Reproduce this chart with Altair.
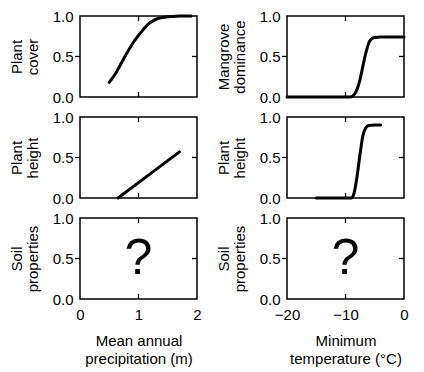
import altair as alt
import pandas as pd

# ---- data ----
cover_precip_x = [0.5, 0.6, 0.7, 0.8, 0.9, 1.0, 1.1, 1.2, 1.3, 1.4, 1.5, 1.6, 1.7, 1.8, 1.9]
cover_precip_y = [0.18, 0.28, 0.41, 0.54, 0.66, 0.76, 0.85, 0.92, 0.96, 0.98, 0.99, 0.995, 1.0, 1.0, 1.0]

height_precip_x = [0.65, 1.0, 1.70]
height_precip_y = [0.0, 0.19, 0.57]

mangrove_temp_x = [-20, -15, -10, -9.2, -8.5, -8, -7.5, -7, -6.5, -6, -5.5, -5, -4, -2, 0]
mangrove_temp_y = [0, 0, 0, 0.0, 0.03, 0.1, 0.22, 0.39, 0.55, 0.67, 0.72, 0.735, 0.74, 0.74, 0.74]

height_temp_x = [-15, -12, -10, -9, -8.5, -8, -7.5, -7, -6.5, -6, -5, -4]
height_temp_y = [0, 0, 0, 0.0, 0.07, 0.28, 0.55, 0.78, 0.87, 0.895, 0.9, 0.9]

question_precip_x = [1.0]
question_temp_x = [-10.0]
question_y = [0.5]
question_text = ["?"]

precip_ticks = [0.0, 1.0, 2.0]
temp_ticks = [-20.0, -10.0, 0.0]
y_ticks = [0.0, 0.5, 1.0]
mid_y_tick = [0.5]

left_titles = [["Plant", "cover"], ["Plant", "height"], ["Soil", "properties"]]
right_titles = [["Mangrove", "dominance"], ["Plant", "height"], ["Soil", "properties"]]
precip_title = ["Mean annual", "precipitation (m)"]
temp_title = ["Minimum", "temperature (°C)"]

FONT = "Liberation Sans"
W, H = 117, 81
TL = 5  # inner tick length


def panel(df, xticks, ytitle, xtitle=None, qmark=False, smooth=True):
    if xtitle is not None:
        xaxis = alt.Axis(values=xticks, format=".0f", title=xtitle,
                         labelOverlap=False, labelFlush=False, labelBound=False)
    else:
        xaxis = None
    xenc = alt.X("x:Q", scale=alt.Scale(domain=[xticks[0], xticks[-1]], nice=False, zero=False), axis=xaxis)
    yenc = alt.Y("y:Q", scale=alt.Scale(domain=[0, 1], nice=False),
                 axis=alt.Axis(values=y_ticks, format=".1f", title=ytitle,
                               labelOverlap=False, labelFlush=False))
    if qmark:
        main = alt.Chart(df).mark_text(font=FONT, fontSize=50, color="black",
                                       baseline="middle", align="center").encode(
            x=xenc, y=yenc, text="t:N")
    else:
        main = alt.Chart(df).mark_line(color="black", strokeWidth=3, strokeCap="round",
                                       interpolate="monotone" if smooth else "linear").encode(x=xenc, y=yenc)
    txdf = pd.DataFrame({"x": [xticks[1]]})
    tydf = pd.DataFrame({"y": mid_y_tick})
    rule = dict(color="black", strokeWidth=1.3)
    top = alt.Chart(txdf).mark_rule(**rule).encode(
        x=xenc, y=alt.value(0), y2=alt.value(TL))
    bottom = alt.Chart(txdf).mark_rule(**rule).encode(
        x=xenc, y=alt.value(H - TL), y2=alt.value(H))
    right = alt.Chart(tydf).mark_rule(**rule).encode(
        y=yenc, x=alt.value(W - TL), x2=alt.value(W))
    left = alt.Chart(tydf).mark_rule(**rule).encode(
        y=yenc, x=alt.value(-TL), x2=alt.value(0))
    return alt.layer(main, top, bottom, right, left).properties(width=W, height=H)


d1 = pd.DataFrame({"x": cover_precip_x, "y": cover_precip_y})
d2 = pd.DataFrame({"x": height_precip_x, "y": height_precip_y})
d3 = pd.DataFrame({"x": question_precip_x, "y": question_y, "t": question_text})
d4 = pd.DataFrame({"x": mangrove_temp_x, "y": mangrove_temp_y})
d5 = pd.DataFrame({"x": height_temp_x, "y": height_temp_y})
d6 = pd.DataFrame({"x": question_temp_x, "y": question_y, "t": question_text})

panels = [
    panel(d1, precip_ticks, left_titles[0]),
    panel(d4, temp_ticks, right_titles[0]),
    panel(d2, precip_ticks, left_titles[1], smooth=False),
    panel(d5, temp_ticks, right_titles[1]),
    panel(d3, precip_ticks, left_titles[2], precip_title, qmark=True),
    panel(d6, temp_ticks, right_titles[2], temp_title, qmark=True),
]

chart = alt.concat(*panels, columns=2, spacing=alt.RowColnumber(row=20, column=90)).properties(
    bounds="flush",
    padding={"left": 0, "top": 0, "right": 5, "bottom": 0},
    background="white",
).configure_view(
    stroke="black", strokeWidth=1.5
).configure_axis(
    labelFont=FONT, titleFont=FONT, labelFontSize=15, titleFontSize=15,
    titleFontWeight="normal", labelColor="black", titleColor="black",
    ticks=False, domain=False, grid=False, labelOverlap=False, labelFlush=False,
    labelPadding=7, titlePadding=12, titleLineHeight=16,
).configure_axisX(labelPadding=8, titlePadding=11, titleLineHeight=18)

chart.save("out.html", embed_options={"renderer": "svg", "actions": False})
